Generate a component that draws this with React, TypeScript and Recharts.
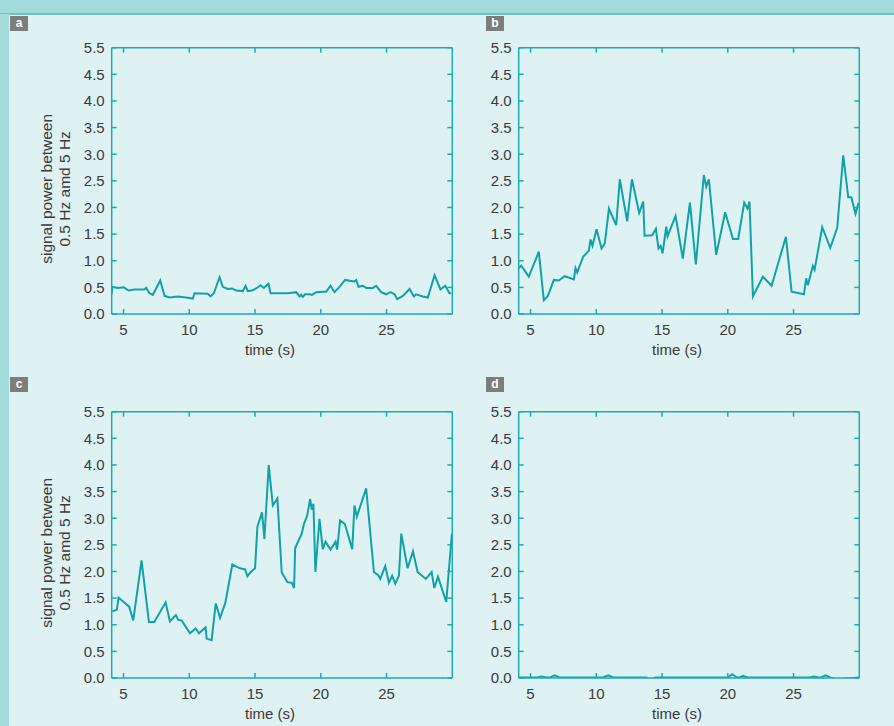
import React from 'react';
import { LineChart, Line, XAxis, YAxis, Label } from 'recharts';

const X_TICKS = [5, 10, 15, 20, 25];
const Y_TICKS = [0, 0.5, 1, 1.5, 2, 2.5, 3, 3.5, 4, 4.5, 5];
// the top tick of the original figure is printed as 5.5
const Y_TICK_LABELS = ['0.0', '0.5', '1.0', '1.5', '2.0', '2.5', '3.0', '3.5', '4.0', '4.5', '5.5'];

const A_TIME = [4.1, 4.15, 4.57, 5.02, 5.38, 5.83, 6.59, 6.72, 6.97, 7.23, 7.48, 7.79, 8.12, 8.5, 9.13, 9.76, 10.27, 10.4, 11.41, 11.61, 11.87, 12.3, 12.55, 12.93, 13.24, 13.57, 14.07, 14.28, 14.45, 14.76, 15.09, 15.42, 15.67, 16.02, 16.18, 17.49, 18.13, 18.38, 18.51, 18.63, 18.81, 19.14, 19.32, 19.65, 20.16, 20.41, 20.74, 21.04, 21.42, 21.85, 22.31, 22.56, 22.69, 22.87, 23.2, 23.45, 23.96, 24.21, 24.59, 24.97, 25.3, 25.61, 25.81, 26.24, 26.75, 27.08, 27.25, 27.76, 28.14, 28.65, 29.1, 29.46, 29.79, 29.92];
const A_POWER = [0.37, 0.51, 0.49, 0.5, 0.44, 0.46, 0.46, 0.49, 0.39, 0.36, 0.48, 0.63, 0.34, 0.31, 0.33, 0.31, 0.29, 0.39, 0.38, 0.33, 0.39, 0.69, 0.51, 0.47, 0.48, 0.44, 0.43, 0.53, 0.43, 0.44, 0.48, 0.54, 0.49, 0.57, 0.39, 0.39, 0.41, 0.33, 0.36, 0.32, 0.37, 0.37, 0.36, 0.41, 0.42, 0.42, 0.53, 0.41, 0.51, 0.64, 0.62, 0.61, 0.64, 0.51, 0.53, 0.49, 0.49, 0.53, 0.41, 0.37, 0.41, 0.37, 0.28, 0.34, 0.47, 0.33, 0.37, 0.33, 0.31, 0.73, 0.46, 0.53, 0.39, 0.39];

const B_TIME = [4.12, 4.29, 4.62, 4.87, 5.63, 6.01, 6.32, 6.77, 7.15, 7.59, 8.3, 8.42, 8.55, 9.01, 9.44, 9.56, 9.71, 10.02, 10.4, 10.65, 10.96, 11.51, 11.79, 12.35, 12.71, 13.26, 13.57, 13.67, 14.25, 14.53, 14.73, 14.89, 15.04, 15.32, 15.42, 16.03, 16.58, 17.12, 17.57, 18.18, 18.36, 18.56, 19.12, 19.8, 20.39, 20.79, 21.25, 21.5, 21.65, 21.91, 22.67, 23.33, 24.42, 24.85, 25.79, 25.96, 26.09, 26.47, 26.6, 27.18, 27.79, 28.32, 28.78, 29.16, 29.39, 29.71, 29.94];
const B_POWER = [0.86, 0.91, 0.79, 0.7, 1.17, 0.26, 0.34, 0.64, 0.63, 0.71, 0.65, 0.86, 0.78, 1.08, 1.19, 1.4, 1.28, 1.59, 1.23, 1.33, 1.98, 1.67, 2.53, 1.74, 2.53, 1.9, 2.11, 1.47, 1.48, 1.6, 1.23, 1.28, 1.14, 1.64, 1.46, 1.84, 1.04, 2.09, 0.93, 2.61, 2.39, 2.53, 1.11, 1.91, 1.41, 1.41, 2.09, 1.98, 2.11, 0.33, 0.7, 0.53, 1.45, 0.42, 0.37, 0.67, 0.54, 0.9, 0.83, 1.63, 1.24, 1.62, 2.98, 2.19, 2.19, 1.88, 2.09];

const C_TIME = [4.14, 4.49, 4.62, 5.43, 5.74, 6.37, 6.93, 7.34, 8.2, 8.53, 8.98, 9.16, 9.42, 10.05, 10.48, 10.74, 11.24, 11.32, 11.7, 12.01, 12.34, 12.74, 13.27, 13.86, 14.24, 14.42, 14.64, 15.0, 15.18, 15.53, 15.71, 16.04, 16.35, 16.7, 17.03, 17.46, 17.79, 17.97, 18.05, 18.55, 18.73, 18.96, 19.19, 19.31, 19.44, 19.59, 19.9, 20.15, 20.36, 20.74, 21.12, 21.24, 21.47, 21.83, 22.39, 22.56, 22.74, 23.45, 24.04, 24.37, 24.52, 24.9, 25.18, 25.43, 25.66, 25.94, 26.12, 26.6, 27.01, 27.36, 27.99, 28.43, 28.63, 28.91, 29.54, 29.97];
const C_POWER = [1.25, 1.28, 1.51, 1.34, 1.08, 2.21, 1.05, 1.05, 1.42, 1.06, 1.18, 1.09, 1.08, 0.84, 0.93, 0.84, 0.95, 0.74, 0.71, 1.4, 1.13, 1.41, 2.13, 2.06, 2.04, 1.91, 1.98, 2.06, 2.84, 3.11, 2.61, 4.0, 3.24, 3.37, 1.98, 1.8, 1.79, 1.69, 2.44, 2.71, 2.9, 3.04, 3.36, 3.16, 3.27, 1.99, 2.99, 2.42, 2.56, 2.41, 2.56, 2.41, 2.96, 2.89, 2.42, 3.24, 3.03, 3.56, 1.99, 1.93, 1.86, 2.1, 1.79, 1.92, 1.77, 1.92, 2.71, 2.06, 2.38, 1.99, 1.86, 1.99, 1.69, 1.9, 1.43, 2.71];

const D_TIME = [4.1, 5.5, 5.84, 6.2, 6.5, 6.84, 7.2, 10.5, 10.9, 11.3, 13.8, 14.12, 14.5, 20.0, 20.33, 20.7, 20.9, 21.16, 21.5, 26.2, 26.55, 26.9, 27.1, 27.44, 27.8, 28.1, 28.58, 29.0, 29.97];
const D_POWER = [0.01, 0.01, 0.03, 0.01, 0.01, 0.05, 0.01, 0.01, 0.05, 0.01, 0.01, -0.03, 0.01, 0.01, 0.07, 0.01, 0.01, 0.04, 0.01, 0.01, 0.03, 0.01, 0.01, 0.05, 0.01, -0.02, -0.03, -0.01, 0.01];

const X_DOMAIN: [number, number] = [4.1, 30];
const Y_DOMAIN: [number, number] = [0, 5];

const AXIS_COLOR = '#1eabb0';
const LINE_COLOR = '#10a2a7';
const TEXT_COLOR = '#3a3a3a';
const BG = '#dff2f3';
const STRIP = '#a3dada';
const FONT = '"Liberation Sans", Arial, Helvetica, sans-serif';

const CHART_W = 460;
const CHART_H = 370;

const fmtY = (v: number) => {
  const i = Y_TICKS.indexOf(v);
  return i >= 0 ? Y_TICK_LABELS[i] : '';
};

// eslint-disable-next-line @typescript-eslint/no-explicit-any
function TimeLabel(props: any) {
  const vb = props.viewBox || { x: 111.7, y: 314, width: 340.6, height: 46 };
  return (
    <text x={vb.x + vb.width / 2 - 12} y={vb.y + 41} textAnchor="middle" fontSize={15} fill={TEXT_COLOR} fontFamily={FONT}>
      time (s)
    </text>
  );
}

// eslint-disable-next-line @typescript-eslint/no-explicit-any
function PowerLabel(props: any) {
  const vb = props.viewBox || { x: 51.7, y: 47.7, width: 60, height: 266.3 };
  const cy = vb.y + vb.height / 2 + 8;
  const x1 = vb.x - 5;
  const x2 = vb.x + 13.3;
  return (
    <g fontSize={15.5} fill={TEXT_COLOR} fontFamily={FONT}>
      <text x={x1} y={cy} textAnchor="middle" dominantBaseline="central" transform={`rotate(-90 ${x1} ${cy})`}>
        signal power between
      </text>
      <text x={x2} y={cy} textAnchor="middle" dominantBaseline="central" transform={`rotate(-90 ${x2} ${cy})`}>
        0.5 Hz amd 5 Hz
      </text>
    </g>
  );
}

interface PanelProps {
  times: number[];
  values: number[];
  left: number;
  top: number;
  yTitle: boolean;
}

function Panel({ times, values, left, top, yTitle }: PanelProps) {
  const data = times.map((t, i) => ({ t, v: values[i] }));
  const axisCommon = { stroke: AXIS_COLOR, strokeWidth: 1.5 };
  return (
    <div style={{ position: 'absolute', left, top }}>
      <LineChart width={CHART_W} height={CHART_H} data={data} margin={{ top: 46.7, right: 6.7, bottom: 10, left: 51.7 }}>
        <XAxis
          dataKey="t"
          type="number"
          domain={X_DOMAIN}
          ticks={X_TICKS}
          interval={0}
          allowDataOverflow
          height={46}
          tickSize={-5}
          tickMargin={15}
          {...axisCommon}
          tick={{ fill: TEXT_COLOR, fontSize: 15, fontFamily: FONT }}
        >
          <Label content={TimeLabel} />
        </XAxis>
        <XAxis
          xAxisId="top"
          orientation="top"
          dataKey="t"
          type="number"
          domain={X_DOMAIN}
          ticks={X_TICKS}
          interval={0}
          allowDataOverflow
          height={1}
          tickSize={-5}
          tickFormatter={() => ''}
          {...axisCommon}
        />
        <YAxis
          type="number"
          domain={Y_DOMAIN}
          ticks={Y_TICKS}
          interval={0}
          allowDataOverflow
          width={60}
          tickSize={-5}
          tickMargin={12}
          tickFormatter={fmtY}
          {...axisCommon}
          tick={{ fill: TEXT_COLOR, fontSize: 15, fontFamily: FONT }}
        >
          {yTitle && <Label content={PowerLabel} />}
        </YAxis>
        <YAxis
          yAxisId="right"
          orientation="right"
          type="number"
          domain={Y_DOMAIN}
          ticks={Y_TICKS}
          interval={0}
          allowDataOverflow
          width={1}
          tickSize={-5}
          tickFormatter={() => ''}
          {...axisCommon}
        />
        <Line type="linear" dataKey="v" stroke={LINE_COLOR} strokeWidth={2} dot={false} isAnimationActive={false} />
      </LineChart>
    </div>
  );
}

function Tag({ letter, left, top }: { letter: string; left: number; top: number }) {
  return (
    <div
      style={{
        position: 'absolute',
        left,
        top,
        width: 18,
        height: 15,
        background: '#7d7d7d',
        color: '#fff',
        fontSize: 12,
        fontWeight: 'bold',
        lineHeight: '14px',
        textAlign: 'center',
        fontFamily: FONT,
      }}
    >
      {letter}
    </div>
  );
}

export default function App() {
  return (
    <div style={{ position: 'absolute', left: 0, top: 0, width: 894, height: 726, background: BG, overflow: 'hidden', fontFamily: FONT }}>
      <div style={{ position: 'absolute', left: 0, top: 0, width: 894, height: 13, background: STRIP }} />
      <div style={{ position: 'absolute', left: 0, top: 13, width: 894, height: 1.5, background: '#66c4c6' }} />
      <div style={{ position: 'absolute', left: 0, top: 14, width: 9, height: 712, background: STRIP }} />
      <Tag letter="a" left={10} top={15.7} />
      <Tag letter="b" left={486} top={15.7} />
      <Tag letter="c" left={10} top={377.3} />
      <Tag letter="d" left={486} top={377.3} />
      <Panel times={A_TIME} values={A_POWER} left={0} top={0} yTitle />
      <Panel times={B_TIME} values={B_POWER} left={406.6} top={0} yTitle={false} />
      <Panel times={C_TIME} values={C_POWER} left={0} top={364} yTitle />
      <Panel times={D_TIME} values={D_POWER} left={406.6} top={364.4} yTitle={false} />
    </div>
  );
}
